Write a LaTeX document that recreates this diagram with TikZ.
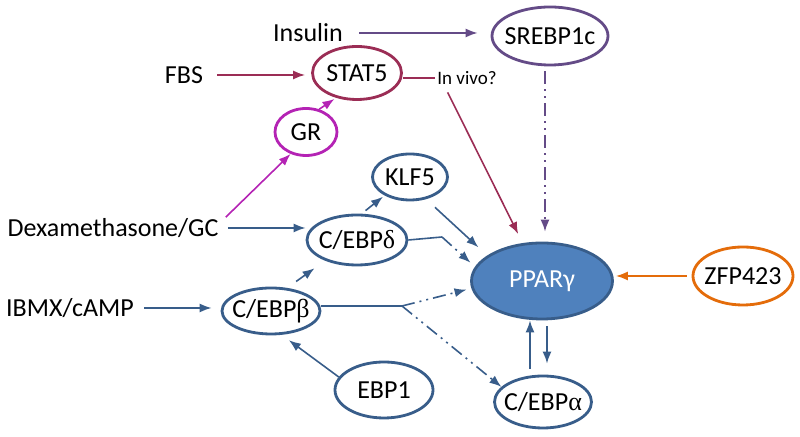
\documentclass[tikz,border=0pt]{standalone}
\usepackage{fontspec}
\setmainfont{Carlito}
\newfontfamily\grk{Liberation Serif}
\usetikzlibrary{shapes.geometric,arrows.meta}

\definecolor{bluedraw}{RGB}{56,93,138}
\definecolor{bluefill}{RGB}{79,129,189}
\definecolor{statred}{RGB}{155,45,85}
\definecolor{srebppurple}{RGB}{100,75,135}
\definecolor{grpink}{RGB}{180,35,180}
\definecolor{zfporange}{RGB}{228,108,10}

\begin{document}
\begin{tikzpicture}[x=0.5pt,y=-0.5pt,font=\fontsize{13}{15}\selectfont,
	gene/.style={ellipse,draw,line width=1.4pt,inner xsep=-4pt,inner ysep=0pt,fill=white},
	signal/.style={inner sep=2pt},
	arr/.style={line width=0.8pt,-{Latex[length=6pt,width=4.5pt]}},
	dashdotdot/.style={dash pattern=on 6.5pt off 2.5pt on 1pt off 2.5pt on 1pt off 2.5pt}]
			\useasboundingbox (0,0) rectangle (800,437);
			
			\begin{scope}[every node/.style={signal}]
				\node (insulin) at (308,33) {Insulin};
				\node (fbs) at (184,75) {FBS};
				\node (dexa) at (113,228) {Dexamethasone/GC};
				\node (ibmx) at (70,308) {IBMX/cAMP};
				\node[font=\fontsize{9.5}{11}\selectfont,inner sep=1pt] (invivo) at (467,78) {In vivo?};
			\end{scope}
			
			\begin{scope}[every node/.style={gene}]
				\node[draw=srebppurple,minimum width=58pt,minimum height=29pt] (srebp) at (550,36) {SREBP1c};
				\node[draw=statred,minimum width=44.5pt,minimum height=26.5pt] (stat) at (357,73) {STAT5};
				\node[draw=grpink,minimum width=31pt,minimum height=23.5pt] (gr) at (306,132) {GR};
				\node[draw=bluedraw,minimum width=37.5pt,minimum height=23pt] (klf) at (410,177) {KLF5};
				\node[draw=bluedraw,minimum width=50pt,minimum height=25pt] (cebpd) at (357,240) {C/EBP{\grk δ}};
				\node[draw=bluedraw,minimum width=49pt,minimum height=23pt] (cebpb) at (271,311) {C/EBP{\grk β}};
				\node[draw=bluedraw,minimum width=49pt,minimum height=28pt] (ebp) at (384,390) {EBP1};
				\node[draw=bluedraw,minimum width=48.5pt,minimum height=26pt] (cebpa) at (543,402) {C/EBP{\grk α}};
				\node[draw=zfporange,minimum width=50pt,minimum height=29pt] (zfp) at (743,276) {ZFP423};
				\node[draw=bluedraw,fill=bluefill,text=white,minimum width=70.5pt,minimum height=38pt] (ppar) at (542,281) {PPARγ};
			\end{scope}
			
			\coordinate (dbend) at (442,237);
			\coordinate (bbend) at (402,306);
			
			\begin{scope}[arr]
				% top row
				\draw[srebppurple,shorten <=6pt,shorten >=6.5pt] (insulin.east) -- (insulin.east -| srebp.west);
				\draw[statred,shorten <=5pt,shorten >=3pt] (fbs.east) -- (fbs.east -| stat.west);
				\draw[statred,-] (stat.east |- invivo.west) -- (invivo.west);
				\draw[statred,shorten <=3pt,shorten >=5pt] ([xshift=5pt]invivo.south west) -- (ppar.117);
				\draw[srebppurple,dashdotdot,shorten <=2.5pt,shorten >=5pt] ([xshift=-2.5pt]srebp.south) -- ([xshift=-2.5pt]srebp.south |- ppar.north);
				\draw[grpink,shorten >=1pt] (gr.60) -- (stat.230);
				\draw[grpink,shorten <=2pt] ([yshift=4pt]dexa.east) -- (gr.235);
				% blue part
				\draw[bluedraw,shorten <=2.5pt] (dexa.east) -- (dexa.east -| cebpd.west);
				\draw[bluedraw,shorten <=2.5pt,shorten >=1pt] (cebpd.80) -- (klf.216);
				\draw[bluedraw,shorten <=6pt,shorten >=6pt] (klf.306) -- (ppar.155);
				\draw[bluedraw,-] (cebpd.east) -- (dbend);
				\draw[bluedraw,dashdotdot,shorten >=3pt] (dbend) -- (ppar.168);
				\draw[bluedraw,shorten <=5.5pt,shorten >=6.5pt] (cebpb.55) -- (cebpd.213);
				\draw[bluedraw,shorten <=3pt,shorten >=4.5pt] (ibmx.east) -- (ibmx.east -| cebpb.west);
				\draw[bluedraw,-] ([yshift=2.5pt]cebpb.east) -- (bbend);
				\draw[bluedraw,dashdotdot,shorten >=2.5pt] (bbend) -- (ppar.186);
				\draw[bluedraw,dashdotdot] (bbend) -- (cebpa.160);
				\draw[bluedraw,shorten >=4.5pt] (ebp.164) -- (cebpb.294);
				\draw[bluedraw,shorten <=3pt] ([xshift=-6.5pt]cebpa.north) -- ([xshift=-6pt]ppar.south);
				\draw[bluedraw,shorten <=3pt,shorten >=5.5pt] ([xshift=2.5pt]ppar.south) -- ([xshift=2pt]cebpa.north);
				\draw[zfporange,shorten <=2.5pt,shorten >=1pt] (zfp.west) -- (zfp.west -| ppar.east);
			\end{scope}
		\end{tikzpicture}
\end{document}
